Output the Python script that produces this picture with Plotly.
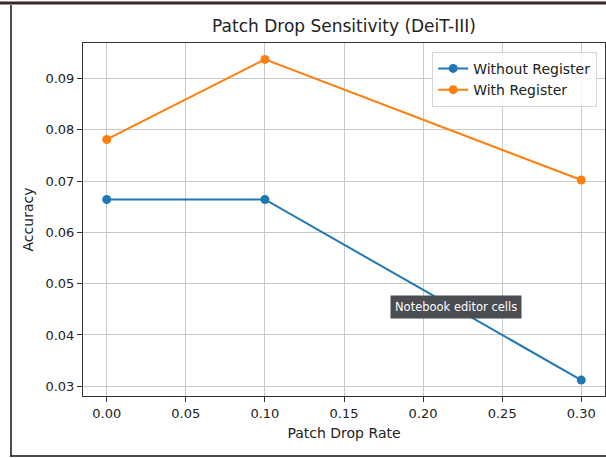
import plotly.graph_objects as go

drop_rates = [0.0, 0.1, 0.3]
acc_without = [0.0664, 0.0664, 0.0312]
acc_with = [0.0781, 0.0937, 0.0702]
x_ticks = [0.00, 0.05, 0.10, 0.15, 0.20, 0.25, 0.30]
y_ticks = [0.03, 0.04, 0.05, 0.06, 0.07, 0.08, 0.09]

W, H = 606, 458
L, R, T, B = 83, 1, 43, 62
pw, ph = W - L - R, H - T - B

def px(x):
    return (x - L) / pw

def py(y):
    return (H - B - y) / ph

font = "DejaVu Sans"
fig = go.Figure()
fig.add_trace(go.Scatter(x=drop_rates, y=acc_without, mode="lines+markers", name="Without Register",
                         line=dict(color="#1f77b4", width=2), marker=dict(size=9, color="#1f77b4")))
fig.add_trace(go.Scatter(x=drop_rates, y=acc_with, mode="lines+markers", name="With Register",
                         line=dict(color="#ff7f0e", width=2), marker=dict(size=9, color="#ff7f0e")))

axis_common = dict(showline=True, linecolor="#333", linewidth=1, mirror=True,
                   ticks="outside", ticklen=5, tickcolor="#333",
                   showgrid=True, gridcolor="#c8c8c8", gridwidth=1, zeroline=False,
                   tickfont=dict(family=font, size=13, color="#222"))
fig.update_xaxes(range=[-0.015, 0.315], tickvals=x_ticks, ticktext=[f"{v:.2f}" for v in x_ticks],
                 title=dict(text="Patch Drop Rate", font=dict(family=font, size=14, color="#222"), standoff=8),
                 **axis_common)
fig.update_yaxes(range=[0.0281, 0.0969], tickvals=y_ticks, ticktext=[f"{v:.2f}" for v in y_ticks],
                 title=dict(text="Accuracy", font=dict(family=font, size=14, color="#222"), standoff=8),
                 **axis_common)

fig.update_layout(
    width=W, height=H, margin=dict(l=L, r=R, t=T, b=B),
    paper_bgcolor="white", plot_bgcolor="white",
    title=dict(text="Patch Drop Sensitivity (DeiT-III)", x=344 / W, xanchor="center",
               y=1 - 26 / H, yanchor="middle", font=dict(family=font, size=17, color="#222")),
    legend=dict(x=0.985, y=0.975, xanchor="right", yanchor="top", bgcolor="rgba(255,255,255,0.85)",
                bordercolor="#d5d5d5", borderwidth=1, font=dict(family=font, size=14, color="#222"),
                tracegroupgap=0),
    showlegend=True,
    shapes=[
        dict(type="line", xref="paper", yref="paper", x0=px(0), x1=px(606), y0=py(3), y1=py(3),
             line=dict(color="#3a2626", width=3)),
        dict(type="line", xref="paper", yref="paper", x0=px(11), x1=px(11), y0=py(5), y1=py(457),
             line=dict(color="#111", width=1.5)),
        dict(type="line", xref="paper", yref="paper", x0=px(11), x1=px(606), y0=py(456), y1=py(456),
             line=dict(color="#111", width=1.5)),
    ],
    annotations=[
        dict(text="Notebook editor cells", xref="paper", yref="paper", x=px(456), y=py(307),
             xanchor="center", yanchor="middle", showarrow=False, bgcolor="#4a4d52",
             font=dict(family=font, size=11.5, color="white"), borderpad=4),
    ],
)

fig.write_html("out.html")
